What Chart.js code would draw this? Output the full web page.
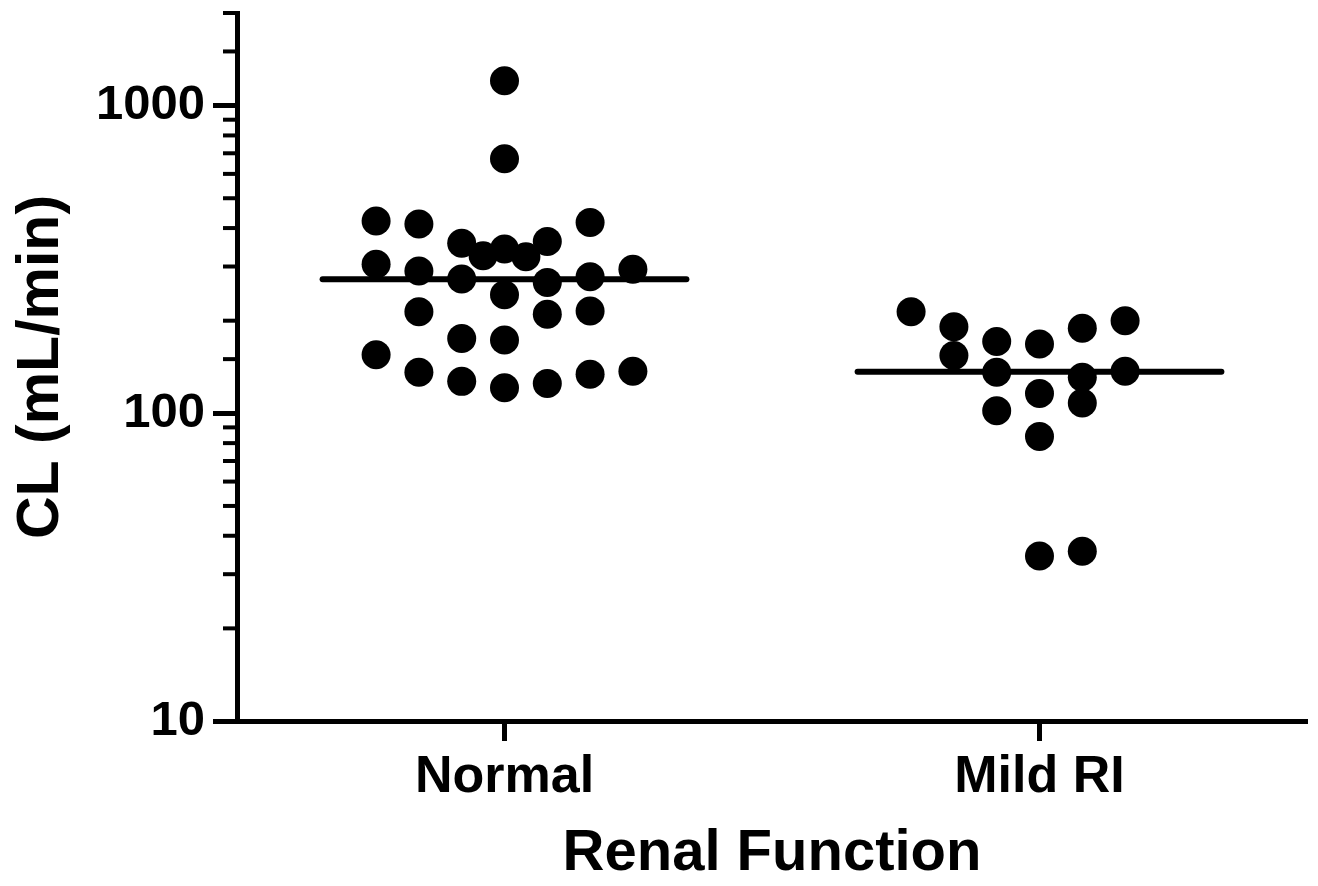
<!DOCTYPE html>
<html><head><meta charset="utf-8">
<script src="https://cdn.jsdelivr.net/npm/chart.js@4/dist/chart.umd.min.js"></script>
<style>html,body{margin:0;padding:0;background:#fff;overflow:hidden}#wrap{width:1318px;height:886px}</style>
</head><body><div id="wrap"><canvas id="c" width="1318" height="886"></canvas></div>
<script>
const categories = ['Normal', 'Mild RI'];
const yTickLabels = [10, 100, 1000];
const normalX = [0.50,0.50,0.26,0.34,0.66,0.42,0.58,0.46,0.50,0.54,0.26,0.34,0.42,0.58,0.66,0.74,0.50,0.34,0.58,0.66,0.42,0.50,0.26,0.34,0.42,0.50,0.58,0.66,0.74];
const normalY = [1205,672,422,412,417,357,362,325,342,323,305,290,273,266,278,294,243,214,210,215,175,173,155,136,127,121,125,134,137];
const mildX = [1.26,1.34,1.34,1.42,1.42,1.42,1.50,1.50,1.50,1.50,1.58,1.58,1.58,1.58,1.66,1.66];
const mildY = [214,191,154,171,136,102,168,116,84,34.4,189,131,108,35.6,200,137];
const summaryValues = [272.9, 136.6];
const summaryX = [[0.16, 0.84], [1.16, 1.84]];

const FONT = "'Liberation Sans', Arial, sans-serif";

const minorTicks = {
  id: 'minorTicks',
  afterDraw(chart) {
    const s = chart.scales.y, ctx = chart.ctx;
    const x0 = s.right;
    ctx.save();
    ctx.strokeStyle = '#000';
    ctx.lineWidth = 4;
    s.ticks.forEach(t => {
      if (!yTickLabels.some(v => Math.abs(v - t.value) < 1e-6)) {
        const y = s.getPixelForValue(t.value);
        ctx.beginPath(); ctx.moveTo(x0 - 14, y); ctx.lineTo(x0, y); ctx.stroke();
      }
    });
    ctx.restore();
  }
};

const pts = (xs, ys) => xs.map((x, i) => ({x, y: ys[i]}));
const lineDs = (i) => ({
  type: 'line',
  data: summaryX[i].map(x => ({x, y: summaryValues[i]})),
  borderColor: '#000', borderWidth: 6, borderCapStyle: 'round',
  pointRadius: 0, fill: false
});

new Chart(document.getElementById('c'), {
  type: 'scatter',
  data: {
    datasets: [
      {data: pts(normalX, normalY), backgroundColor: '#000', borderWidth: 0, pointRadius: 14.5, pointHoverRadius: 14.5},
      {data: pts(mildX, mildY), backgroundColor: '#000', borderWidth: 0, pointRadius: 14.5, pointHoverRadius: 14.5},
      lineDs(0), lineDs(1)
    ]
  },
  options: {
    responsive: false, animation: false, devicePixelRatio: 1,
    layout: {autoPadding: false, padding: {top: 13, right: 11, left: 0, bottom: 0}},
    plugins: {legend: {display: false}, tooltip: {enabled: false}},
    scales: {
      x: {
        type: 'linear', min: 0, max: 2,
        afterBuildTicks: s => { s.ticks = categories.map((c, i) => ({value: i + 0.5})); },
        afterFit: s => { s.height = 165; s.paddingLeft = 0; s.paddingRight = 0; },
        ticks: {
          callback: (v, i) => categories[i],
          font: {family: FONT, size: 52, weight: 'bold'}, color: '#000', padding: 5, autoSkip: false, maxRotation: 0
        },
        grid: {drawOnChartArea: false, drawTicks: true, tickLength: 20, tickWidth: 5, tickColor: '#000'},
        border: {display: true, color: '#000', width: 5},
        title: {display: true, text: 'Renal Function', color: '#000', font: {family: FONT, size: 58, weight: 'bold', lineHeight: 1.1}, padding: 0}
      },
      y: {
        type: 'logarithmic', min: 10, max: 2000,
        afterFit: s => { s.width = 237; s.paddingTop = 0; s.paddingBottom = 0; },
        ticks: {
          autoSkip: false,
          callback: v => yTickLabels.some(t => Math.abs(t - v) < 1e-6) ? String(v) : '',
          font: {family: FONT, size: 49, weight: 'bold'}, color: '#000', padding: 8
        },
        grid: {
          drawOnChartArea: false, drawTicks: true, tickLength: 24, tickWidth: 5,
          tickColor: ctx => yTickLabels.some(t => Math.abs(t - ctx.tick.value) < 1e-6) ? '#000' : 'rgba(0,0,0,0)'
        },
        border: {display: true, color: '#000', width: 5},
        title: {display: true, text: 'CL (mL/min)', color: '#000', font: {family: FONT, size: 59, weight: 'bold'}, padding: {top: 6, bottom: 0}}
      }
    }
  },
  plugins: [minorTicks]
});
</script></body></html>
